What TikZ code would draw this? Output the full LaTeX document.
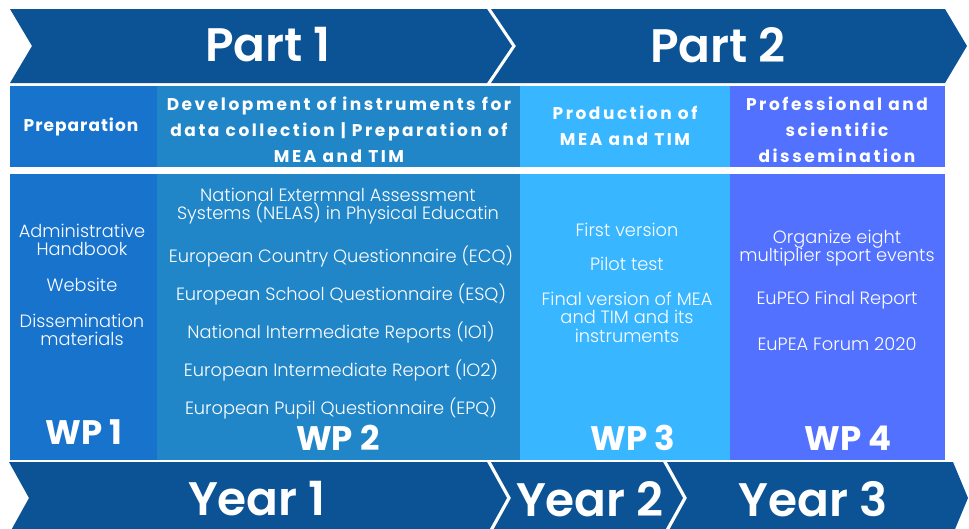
\documentclass[tikz,border=0pt]{standalone}
\usepackage{fontspec}
\setmainfont{Poppins}
\newfontfamily\headfont[LetterSpace=15]{Poppins}
\newfontfamily\prepfont[LetterSpace=6]{Poppins}
\newfontfamily\semifont{Poppins SemiBold}
\newfontfamily\lightfont{Poppins Light}
\definecolor{dkblue}{HTML}{0B5394}
\definecolor{cone}{HTML}{1873CD}
\definecolor{ctwo}{HTML}{2186C8}
\definecolor{cthree}{HTML}{38B6FF}
\definecolor{cfour}{HTML}{5271FF}
\tikzset{
  bigtxt/.style={text=white,inner sep=0pt,font=\semifont\fontsize{47}{50}\selectfont},
  headtxt/.style={text=white,inner sep=0pt,align=center,font=\headfont\bfseries\fontsize{17}{26}\selectfont},
  bodytxt/.style={text=white,inner sep=0pt,align=center,font=\lightfont\fontsize{17.8}{18.5}\selectfont},
  wptxt/.style={text=white,inner sep=0pt,font=\bfseries\fontsize{34}{36}\selectfont},
}
\begin{document}
\begin{tikzpicture}[x=1pt,y=-1pt]
\useasboundingbox (0,0) rectangle (969,528);
\clip (0,0) rectangle (969,528);
% top chevrons
\fill[dkblue] (10,9) -- (487,9) -- (512,46) -- (487,83) -- (10,83) -- (32,46) -- cycle;
\fill[dkblue] (491,9) -- (945,9) -- (967,46) -- (945,83) -- (491,83) -- (516,46) -- cycle;
\node[bigtxt] (part1) at (268,45) {Part 1};
\node[bigtxt] (part2) at (718,45) {Part 2};
% header row
\fill[cone] (10,86) rectangle (157,167);
\fill[ctwo] (157,86) rectangle (520,167);
\fill[cthree] (520,86) rectangle (730,167);
\fill[cfour] (730,86) rectangle (945,167);
% body
\fill[cone] (10,174) rectangle (157,460);
\fill[ctwo] (157,174) rectangle (520,460);
\fill[cthree] (520,174) rectangle (730,460);
\fill[cfour] (730,174) rectangle (945,460);
% headers
\node[headtxt,font=\prepfont\bfseries\fontsize{17}{26}\selectfont] (h1) at (81,127) {Preparation};
\node[headtxt] (h2) at (339,130) {Development of instruments for\\data collection | Preparation of\\MEA and TIM};
\node[headtxt] (h3) at (625,126) {Production of\\MEA and TIM};
\node[headtxt] (h4) at (837,130) {Professional and\\scientific\\dissemination};
% column 1
\node[bodytxt] (a1) at (82,240) {Administrative\\Handbook};
\node[bodytxt] (a2) at (82,285) {Website};
\node[bodytxt] (a3) at (82,330) {Dissemination\\materials};
\node[wptxt] (wp1) at (84,432) {WP 1};
% column 2
\node[bodytxt] (b1) at (338,206) {National Extermnal Assessment\\Systems (NELAS) in Physical Educatin};
\node[bodytxt] (b2) at (341,256) {European Country Questionnaire (ECQ)};
\node[bodytxt] (b3) at (341,294) {European School Questionnaire (ESQ)};
\node[bodytxt] (b4) at (341,332) {National Intermediate Reports (IO1)};
\node[bodytxt] (b5) at (341,370) {European Intermediate Report (IO2)};
\node[bodytxt] (b6) at (341,408) {European Pupil Questionnaire (EPQ)};
\node[wptxt] (wp2) at (338,438) {WP 2};
% column 3
\node[bodytxt] (c1) at (627,230) {First version};
\node[bodytxt] (c2) at (627,264) {Pilot test};
\node[bodytxt] (c3) at (627,317) {Final version of MEA\\and TIM and its\\instruments};
\node[wptxt] (wp3) at (633,438) {WP 3};
% column 4
\node[bodytxt] (d1) at (837,248) {Organize eight\\multiplier sport events};
\node[bodytxt] (d2) at (837,300) {EuPEO Final Report};
\node[bodytxt] (d3) at (837,344) {EuPEA Forum 2020};
\node[wptxt] (wp4) at (848,438) {WP 4};
% bottom chevrons
\fill[dkblue] (9,462) -- (487,462) -- (507,498) -- (487,534) -- (9,534) -- (29,498) -- cycle;
\fill[dkblue] (491,462) -- (663,462) -- (683,498) -- (663,534) -- (491,534) -- (511,498) -- cycle;
\fill[dkblue] (667,462) -- (953,462) -- (968,498) -- (953,534) -- (667,534) -- (687,498) -- cycle;
\node[bigtxt] (y1) at (257,499) {Year 1};
\node[bigtxt] (y2) at (590,499) {Year 2};
\node[bigtxt] (y3) at (813,499) {Year 3};
\end{tikzpicture}
\end{document}
